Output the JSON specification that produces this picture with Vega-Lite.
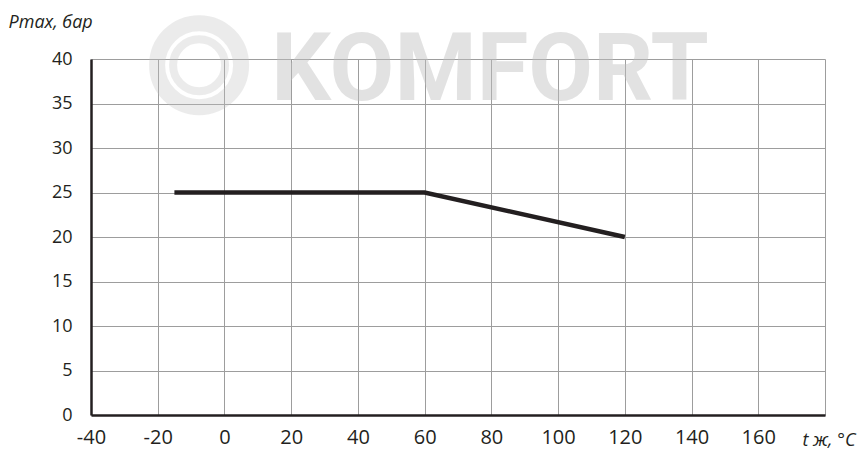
{
  "$schema": "https://vega.github.io/schema/vega-lite/v6.json",
  "width": 734,
  "height": 356,
  "autosize": {"type": "none"},
  "padding": {"left": 91, "top": 59, "right": 35, "bottom": 34},
  "background": "white",
  "config": {"view": {"stroke": null}},
  "datasets": {
    "curve": [
      {"t": -15, "p": 25},
      {"t": 60, "p": 25},
      {"t": 120, "p": 20}
    ],
    "logo": [
      {"t": -7.6, "p": 39.3, "name": "KOMFORT", "tx": 79.6, "py": 35.4}
    ]
  },
  "encoding": {
    "x": {
      "field": "t",
      "type": "quantitative",
      "scale": {"domain": [-40, 180], "nice": false, "zero": false},
      "axis": {
        "values": [-40, -20, 0, 20, 40, 60, 80, 100, 120, 140, 160, 180],
        "labelExpr": "datum.value == 180 ? '' : '' + datum.value",
        "grid": true,
        "gridColor": "#9d9d9d",
        "gridWidth": 1,
        "ticks": false,
        "domainColor": "#231f20",
        "domainWidth": 2.5,
        "labelFont": "Open Sans",
        "labelFontSize": 20,
        "labelColor": "#231f20",
        "labelPadding": 12,
        "labelBaseline": "top",
        "labelFlush": false,
        "labelOverlap": false,
        "title": "t ж, °C",
        "titleFont": "Open Sans",
        "titleFontSize": 18,
        "titleFontStyle": "italic",
        "titleFontWeight": "normal",
        "titleColor": "#231f20",
        "titleAlign": "right",
        "titleBaseline": "alphabetic",
        "titleX": 764,
        "titleY": 30
      }
    },
    "y": {
      "field": "p",
      "type": "quantitative",
      "scale": {"domain": [0, 40], "nice": false},
      "axis": {
        "values": [0, 5, 10, 15, 20, 25, 30, 35, 40],
        "grid": true,
        "gridColor": "#9d9d9d",
        "gridWidth": 1,
        "ticks": false,
        "domainColor": "#231f20",
        "domainWidth": 2.5,
        "labelFont": "Open Sans",
        "labelFontSize": 18,
        "labelColor": "#231f20",
        "labelPadding": 19,
        "labelBaseline": "middle",
        "labelFlush": false,
        "labelOverlap": false,
        "title": "Pmax, бар",
        "titleFont": "Open Sans",
        "titleFontSize": 18,
        "titleFontStyle": "italic",
        "titleFontWeight": "normal",
        "titleColor": "#231f20",
        "titleAngle": 0,
        "titleAlign": "left",
        "titleBaseline": "alphabetic",
        "titleX": -83,
        "titleY": -32
      }
    }
  },
  "layer": [
    {
      "data": {"name": "logo"},
      "mark": {"type": "point", "shape": "circle", "filled": false, "stroke": "#c0c0c0", "strokeOpacity": 0.45, "strokeWidth": 16, "size": 7056}
    },
    {
      "data": {"name": "logo"},
      "mark": {"type": "point", "shape": "circle", "filled": false, "stroke": "#c0c0c0", "strokeOpacity": 0.45, "strokeWidth": 8, "size": 2704}
    },
    {
      "data": {"name": "logo"},
      "mark": {"type": "text", "font": "Roboto", "fontWeight": "bold", "fontSize": 94, "fill": "#c0c0c0", "opacity": 0.45, "align": "center", "baseline": "alphabetic"},
      "encoding": {
        "x": {"field": "tx", "type": "quantitative"},
        "y": {"field": "py", "type": "quantitative"},
        "text": {"field": "name"}
      }
    },
    {
      "data": {"name": "curve"},
      "mark": {"type": "line", "stroke": "#231f20", "strokeWidth": 4.5, "strokeCap": "butt", "strokeJoin": "miter"},
      "encoding": {}
    }
  ]
}
